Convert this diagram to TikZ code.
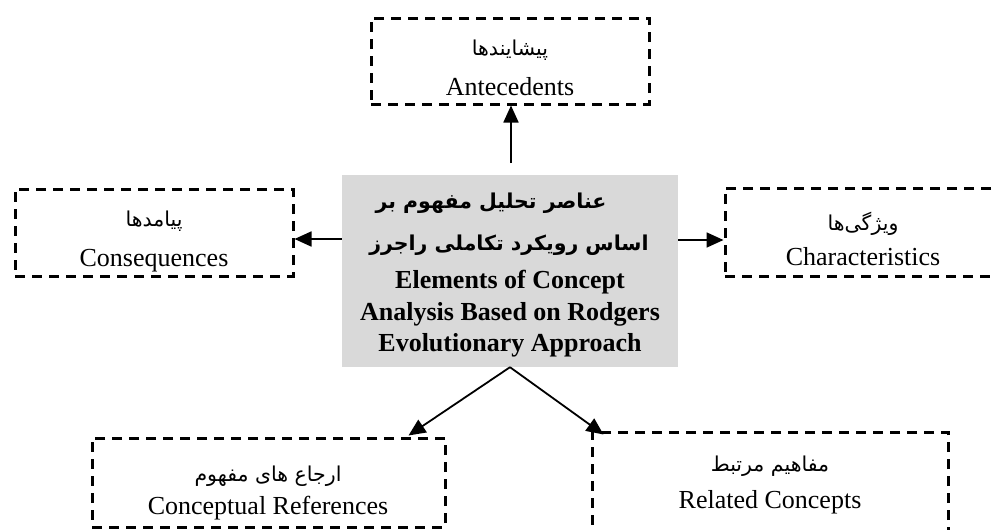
\documentclass[tikz,border=0pt]{standalone}
\usepackage{fontspec}
\setmainfont{Liberation Serif}
\newfontfamily\fa[Script=Arabic]{DejaVu Sans}
\TeXXeTstate=1
\usetikzlibrary{arrows.meta}
\definecolor{boxgray}{HTML}{D9D9D9}
\tikzset{
  dbox/.style={draw, line width=3pt, dash pattern=on 10pt off 7pt, inner sep=0pt, rectangle},
  arr/.style={line width=1.8pt, -{Triangle[length=17pt,width=15pt]}},
  en/.style={anchor=base, inner sep=0pt, font=\fontsize{26}{30}\selectfont},
  enb/.style={anchor=base, inner sep=0pt, font=\fontsize{26}{30}\selectfont\bfseries},
  fa/.style={inner sep=0pt, font=\fontsize{20.5}{24}\selectfont\fa},
  fab/.style={inner sep=0pt, font=\fontsize{20.5}{26}\selectfont\fa\bfseries},
}
\begin{document}
\begin{tikzpicture}[x=1pt,y=-1pt]
\useasboundingbox (0,0) rectangle (997,530);
% central box
\node[fill=boxgray, minimum width=336pt, minimum height=192pt, inner sep=0pt] (center) at (510,271) {};
\node[fab] (c1) at (491,203) {\beginR عناصر تحلیل مفهوم بر\endR};
\node[fab] (c2) at (509,245) {\beginR اساس رویکرد تکاملی راجرز\endR};
\node[enb] (c3) at (510,288) {Elements of Concept};
\node[enb] (c4) at (510,320) {Analysis Based on Rodgers};
\node[enb] (c5) at (510,351) {Evolutionary Approach};
% dashed boxes
\node[dbox, minimum width=278pt, minimum height=86pt] (ante) at (510,61) {};
\node[fa] (ante1) at (510,50) {\beginR پیشایندها\endR};
\node[en] (ante2) at (510,95) {Antecedents};

\node[dbox, minimum width=278pt, minimum height=87pt] (cons) at (154,232.5) {};
\node[fa] (cons1) at (154,221) {\beginR پیامدها\endR};
\node[en] (cons2) at (154,266) {Consequences};

\node[dbox, minimum width=276pt, minimum height=88pt] (char) at (863,232) {};
\node[fa] (char1) at (863,224) {\beginR ویژگی‌ها\endR};
\node[en] (char2) at (863,265) {Characteristics};

\node[dbox, minimum width=353pt, minimum height=89pt] (cref) at (268.5,482.5) {};
\node[fa] (cref1) at (268,476) {\beginR ارجاع های مفهوم\endR};
\node[en] (cref2) at (268,514) {Conceptual References};

\node[dbox, minimum width=356pt, minimum height=140pt] (rel) at (770,502) {};
\node[fa] (rel1) at (770,466) {\beginR مفاهیم مرتبط\endR};
\node[en] (rel2) at (770,508) {Related Concepts};
% connectors
\coordinate (topstart) at (511,163);
\draw[arr] (topstart) -- (ante.south -| topstart);
\draw[arr] (center.west |- 0,239) -- (cons.east |- 0,239);
\draw[arr] (center.east |- 0,240) -- (char.west |- 0,240);
\draw[arr] (center.south) -- ([xshift=-38pt,yshift=1pt]cref.north east);
\draw[arr] (center.south) -- ([xshift=13pt,yshift=-4pt]rel.north west);
\end{tikzpicture}
\end{document}
